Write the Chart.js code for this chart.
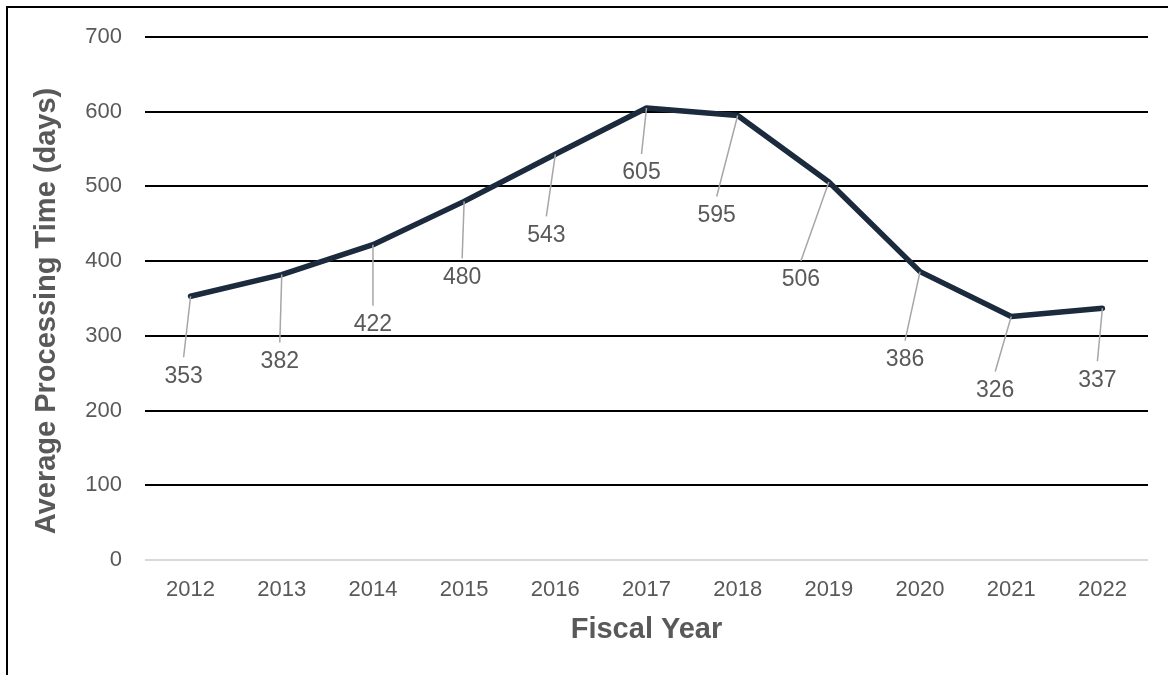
<!DOCTYPE html>
<html>
<head>
<meta charset="utf-8">
<script src="https://cdn.jsdelivr.net/npm/chart.js@4.4.1/dist/chart.umd.min.js"></script>
<style>
  html, body { margin: 0; padding: 0; background: #fff; overflow: hidden; }
  #wrap { position: relative; width: 1168px; height: 675px; }
  #frame { position: absolute; left: 6px; top: 6px; width: 2000px; height: 2000px;
           border-top: 2px solid #000; border-left: 2px solid #000; }
  canvas { position: absolute; left: 0; top: 0; }
</style>
</head>
<body>
<div id="wrap">
  <div id="frame"></div>
  <canvas id="c" width="1168" height="675"></canvas>
</div>
<script>
const years = ['2012','2013','2014','2015','2016','2017','2018','2019','2020','2021','2022'];
const processingDays = [353, 382, 422, 480, 543, 605, 595, 506, 386, 326, 337];
const yTicks = [0, 100, 200, 300, 400, 500, 600, 700];

// label placement (layout only): offset of label centre from its point, in px
const labelDx = [-7, -2, 0, -2, -9, -5, -21, -28, -15, -16, -5];
const labelDy = [80, 87, 80, 76, 81, 65, 100, 98, 88, 74, 72];

const TEXT = '#595959';
const FONT = '"Liberation Sans", Arial, sans-serif';

const leaderLabels = {
  id: 'leaderLabels',
  afterDatasetsDraw(chart) {
    const ctx = chart.ctx;
    const meta = chart.getDatasetMeta(0);
    ctx.save();
    meta.data.forEach((pt, i) => {
      const lx = pt.x + labelDx[i];
      const ly = pt.y + labelDy[i];
      ctx.strokeStyle = '#a6a6a6';
      ctx.lineWidth = 1.5;
      ctx.beginPath();
      ctx.moveTo(pt.x, pt.y);
      ctx.lineTo(lx, ly - 19);
      ctx.stroke();
      ctx.fillStyle = TEXT;
      ctx.font = '23px ' + FONT;
      ctx.textAlign = 'center';
      ctx.textBaseline = 'middle';
      ctx.fillText(String(processingDays[i]), lx, ly);
    });
    ctx.restore();
  }
};

const yTitle = {
  id: 'yTitle',
  afterDraw(chart) {
    const ctx = chart.ctx;
    ctx.save();
    ctx.translate(47, 311);
    ctx.rotate(-Math.PI / 2);
    ctx.fillStyle = TEXT;
    ctx.font = 'bold 29px ' + FONT;
    ctx.textAlign = 'center';
    ctx.textBaseline = 'middle';
    ctx.fillText('Average Processing Time (days)', 0, 0);
    ctx.restore();
  }
};

new Chart(document.getElementById('c'), {
  type: 'line',
  data: {
    labels: years,
    datasets: [{
      label: 'Average Processing Time (days)',
      data: processingDays,
      borderColor: '#1b2a3c',
      borderWidth: 5.5,
      pointRadius: 0,
      tension: 0,
      fill: false,
      borderJoinStyle: 'round',
      borderCapStyle: 'round'
    }]
  },
  plugins: [leaderLabels, yTitle],
  options: {
    responsive: false,
    animation: false,
    layout: { padding: { top: 37, right: 20, bottom: 0, left: 0 } },
    plugins: { legend: { display: false }, tooltip: { enabled: false } },
    scales: {
      x: {
        offset: true,
        grid: { display: false, drawTicks: false },
        border: { display: false },
        ticks: { color: TEXT, font: { family: FONT, size: 22 }, padding: 17, maxRotation: 0 },
        title: { display: true, text: 'Fiscal Year', color: TEXT,
                 font: { family: FONT, size: 29, weight: 'bold' }, padding: { top: 0, bottom: 28 } },
        afterFit(scale) { scale.height = 115; }
      },
      y: {
        min: 0, max: 700,
        afterBuildTicks(scale) { scale.ticks = yTicks.map(v => ({ value: v })); },
        grid: {
          drawTicks: false,
          lineWidth: 2,
          color: (c) => (c.tick && c.tick.value === 0) ? '#d9d9d9' : '#000'
        },
        border: { display: false },
        ticks: { color: TEXT, font: { family: FONT, size: 22 }, padding: 23 },
        afterFit(scale) { scale.width = 145; }
      }
    }
  }
});
</script>
</body>
</html>
